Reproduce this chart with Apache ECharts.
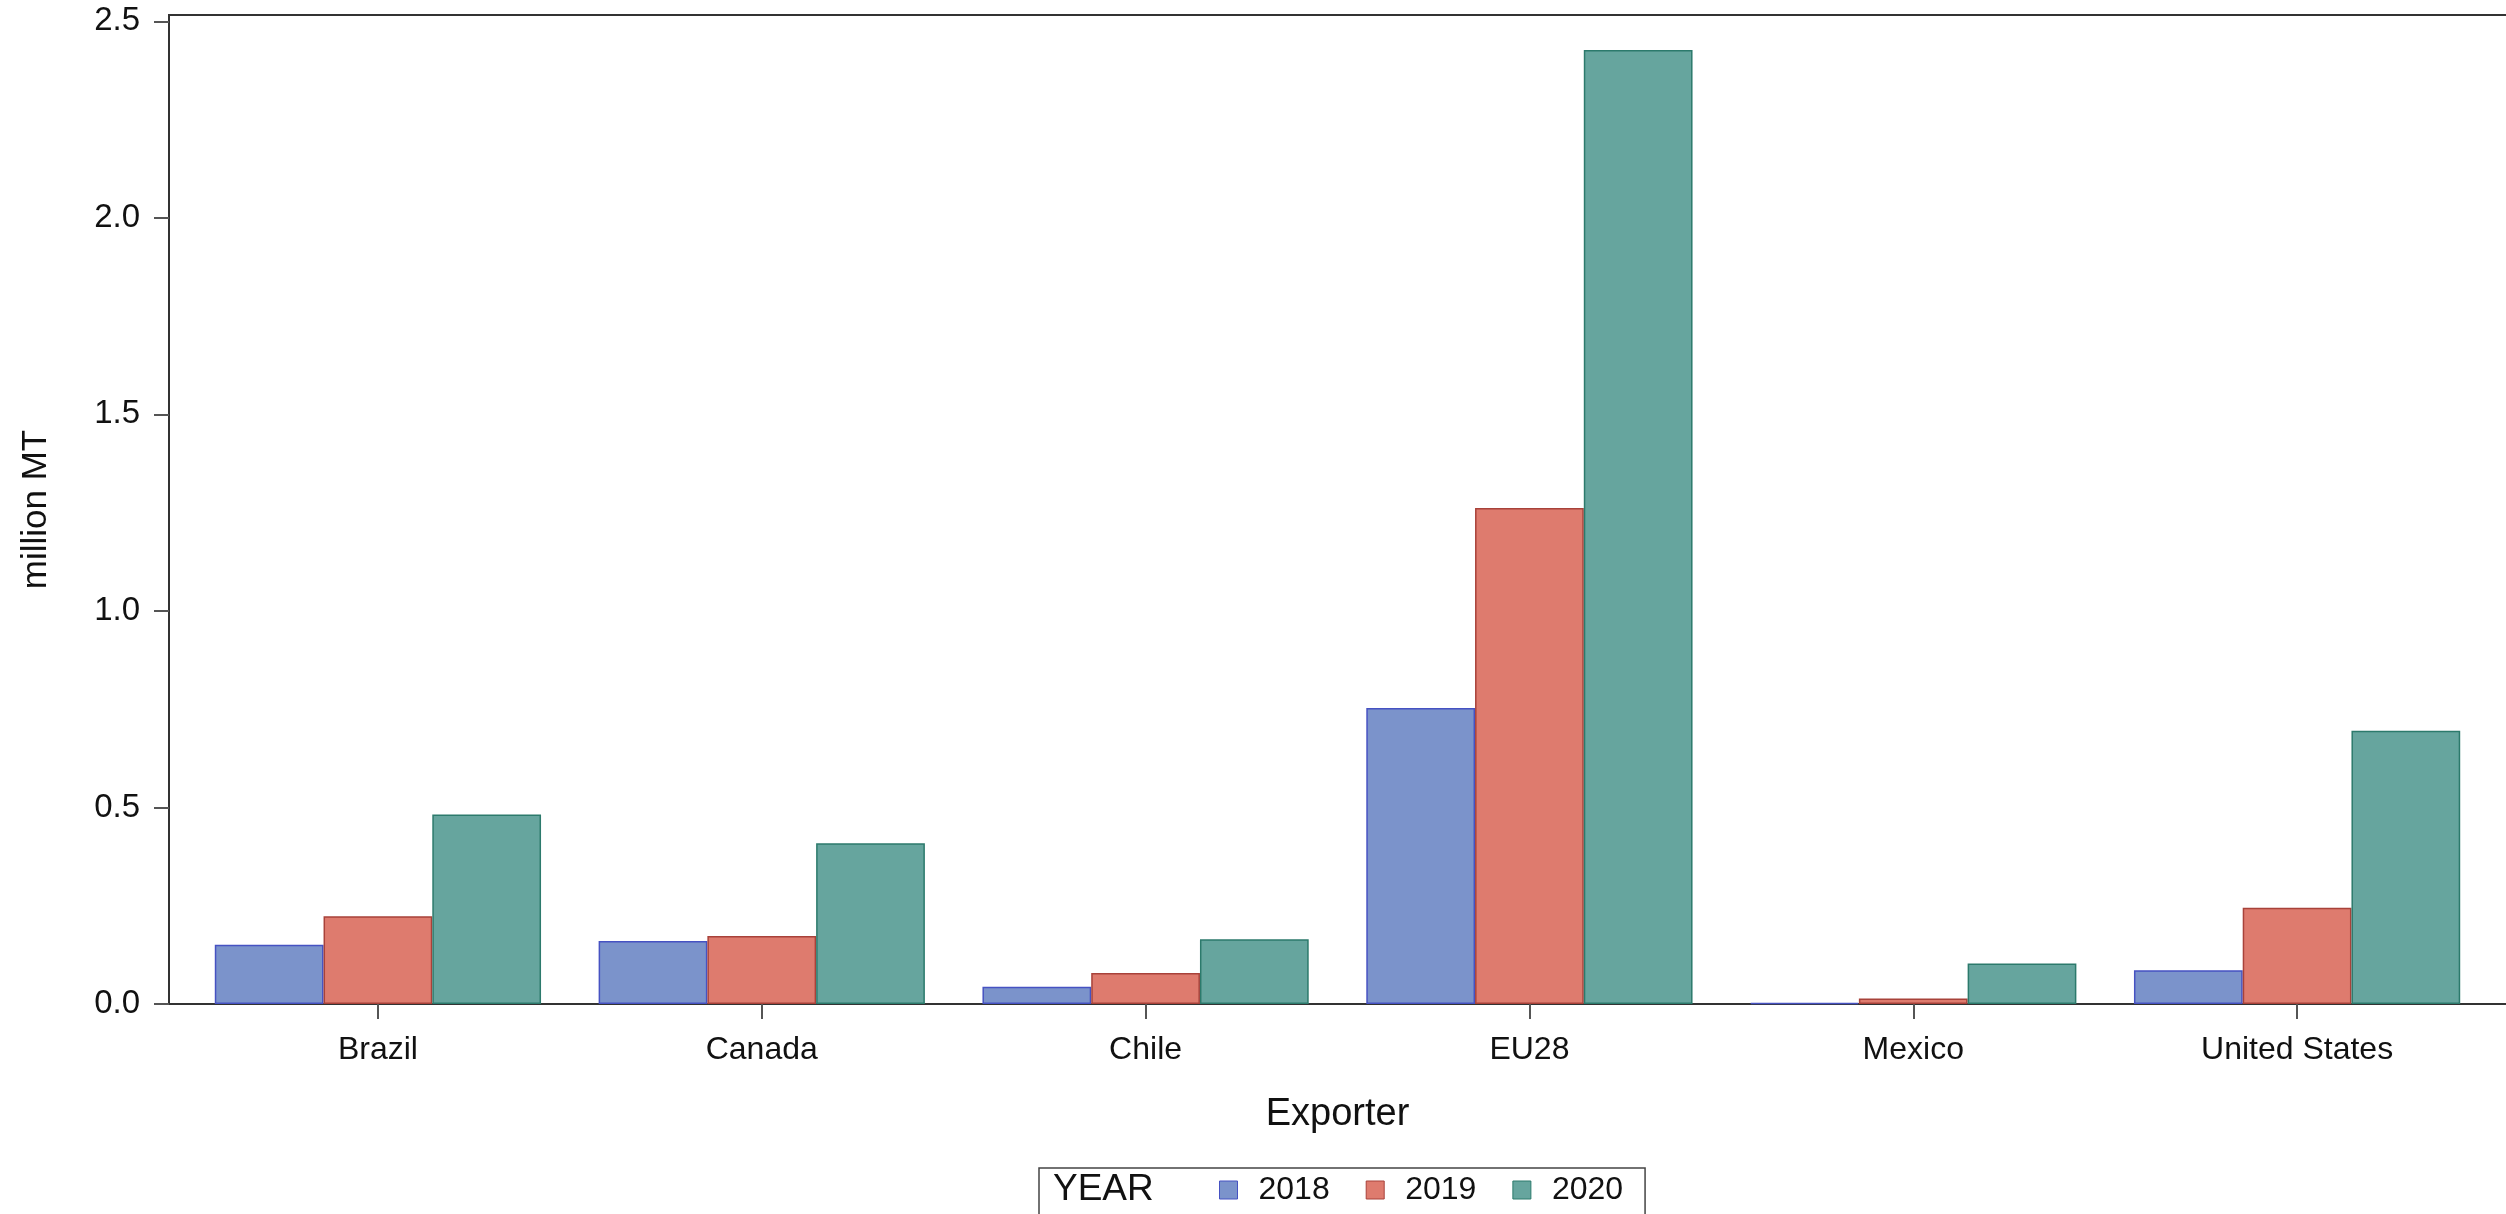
<!DOCTYPE html>
<html>
<head>
<meta charset="utf-8">
<script src="https://cdn.jsdelivr.net/npm/echarts@6/dist/echarts.min.js"></script>
<style>
html,body{margin:0;padding:0;background:#fff;}
#chart{width:2506px;height:1214px;}
</style>
</head>
<body>
<div id="chart"></div>
<script>
const categories = ['Brazil', 'Canada', 'Chile', 'EU28', 'Mexico', 'United States'];
const years = ['2018', '2019', '2020'];
const values2018 = [0.151, 0.160, 0.044, 0.753, 0.003, 0.086];
const values2019 = [0.223, 0.173, 0.079, 1.262, 0.014, 0.245];
const values2020 = [0.482, 0.409, 0.165, 2.427, 0.103, 0.695];
const yTicks = [0, 0.5, 1.0, 1.5, 2.0, 2.5];
const yMax = 2.516;

const fills = ['#7b93cb', '#de7b6e', '#66a59e'];
const borders = ['#4652c2', '#a8423a', '#2c7a6c'];
const seriesValues = [values2018, values2019, values2020];
const FONT = "'Liberation Sans', Arial, sans-serif";

const chart = echarts.init(document.getElementById('chart'), null, {renderer: 'canvas'});

const series = years.map((y, i) => ({
  name: y,
  type: 'bar',
  xAxisIndex: 0,
  yAxisIndex: 0,
  data: seriesValues[i],
  barGap: '0%',
  barCategoryGap: '15%',
  itemStyle: {color: fills[i], borderColor: borders[i], borderWidth: 1.5},
  emphasis: {disabled: true}
}));

chart.setOption({
  animation: false,
  backgroundColor: '#fff',
  textStyle: {fontFamily: FONT},
  title: {
    text: 'YEAR',
    left: 1053, top: 1171, padding: 0,
    textStyle: {fontFamily: FONT, fontSize: 37, fontWeight: 'normal', color: '#111'}
  },
  legend: {
    data: years,
    left: 1039, top: 1168,
    orient: 'horizontal',
    padding: [6, 22, 12, 180],
    borderColor: '#444', borderWidth: 1.5,
    itemWidth: 18, itemHeight: 18, itemGap: 36,
    icon: 'rect',
    selectedMode: false,
    itemStyle: {borderWidth: 1},
    textStyle: {fontFamily: FONT, fontSize: 32, color: '#111', padding: [0, 0, 0, 16]}
  },
  grid: [
    {left: 186, right: 17, top: 15, bottom: 210, show: false, outerBoundsMode: 'none', containLabel: false},
    {left: 169, width: 2450, top: 15, bottom: 210, show: true, outerBoundsMode: 'none', containLabel: false,
      borderColor: '#333', borderWidth: 2, backgroundColor: 'transparent'}
  ],
  xAxis: [
    {
      gridIndex: 0, type: 'category', data: categories,
      name: 'Exporter', nameLocation: 'middle', nameGap: 92,
      nameTextStyle: {fontFamily: FONT, fontSize: 38, color: '#111'},
      axisLine: {show: false},
      axisTick: {show: true, alignWithLabel: true, length: 15, lineStyle: {color: '#555', width: 2}},
      axisLabel: {fontFamily: FONT, fontSize: 32, color: '#111', margin: 30},
      splitLine: {show: false}
    },
    {gridIndex: 1, type: 'category', data: categories, show: false}
  ],
  yAxis: [
    {gridIndex: 0, type: 'value', min: 0, max: yMax, show: false, splitLine: {show: false}},
    {
      gridIndex: 1, type: 'value', min: 0, max: yMax, interval: 0.5,
      name: 'million MT', nameLocation: 'middle', nameGap: 115, nameRotate: 90,
      nameTextStyle: {fontFamily: FONT, fontSize: 35, color: '#111'},
      axisLine: {show: false},
      axisTick: {show: true, length: 15, customValues: yTicks, lineStyle: {color: '#555', width: 2}},
      axisLabel: {fontFamily: FONT, fontSize: 33, color: '#111', margin: 29, customValues: yTicks,
        formatter: v => Number(v).toFixed(1)},
      splitLine: {show: false}
    }
  ],
  series: series
});
</script>
</body>
</html>
